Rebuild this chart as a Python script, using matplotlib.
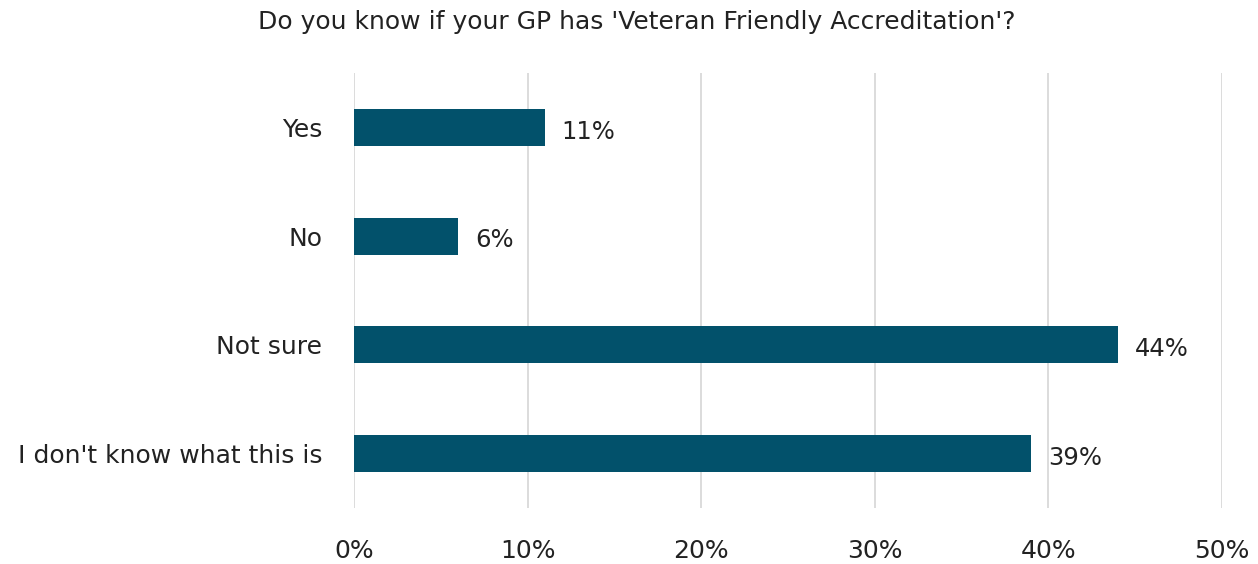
import numpy as np
import matplotlib.pyplot as plt
from matplotlib.ticker import PercentFormatter

# Survey responses (percent of respondents)
categories = ["Yes", "No", "Not sure", "I don't know what this is"]
values = [11, 6, 44, 39]
title = "Do you know if your GP has 'Veteran Friendly Accreditation'?"

bar_color = "#02516b"
text_color = "#222222"
grid_color = "#d9d9d9"

plt.rcParams['font.family'] = ['DejaVu Sans']

fig = plt.figure(figsize=(12.58, 5.64), dpi=100)
ax = fig.add_axes([0.2814, 0.0993, 0.69, 0.7713])

y = np.arange(len(categories))
bars = ax.barh(y, values, height=0.34, color=bar_color, zorder=3)

for rect, v in zip(bars, values):
    ax.annotate(f"{v}%", (rect.get_width(), rect.get_y() + rect.get_height() / 2),
                xytext=(12, -3), textcoords='offset points',
                ha='left', va='center', fontsize=17.5, color=text_color)

ax.set_xlim(0, 50)
ax.set_ylim(len(categories) - 0.5, -0.5)
ax.set_xticks(np.arange(0, 51, 10))
ax.xaxis.set_major_formatter(PercentFormatter(decimals=0))
ax.set_yticks(y)
ax.set_yticklabels(categories)

ax.grid(axis='x', color=grid_color, linewidth=1.3, zorder=0)
for s in ax.spines.values():
    s.set_visible(False)
ax.tick_params(axis='both', length=0, labelsize=18, colors=text_color)
ax.tick_params(axis='x', pad=22)
ax.tick_params(axis='y', pad=23)

fig.text(0.506, 0.961, title, ha='center', va='center', fontsize=18, color=text_color)

fig.savefig("out.png", dpi=100, facecolor='white')
